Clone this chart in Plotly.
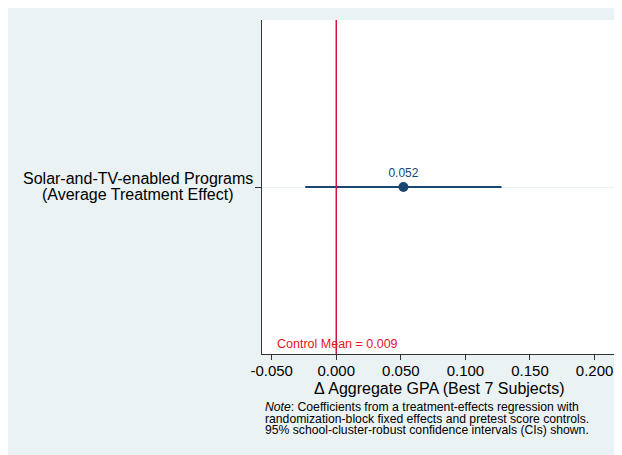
import plotly.graph_objects as go

category_lines = ["Solar-and-TV-enabled Programs", "(Average Treatment Effect)"]
coef = [0.052]
ci_low = [-0.024]
ci_high = [0.128]
coef_labels = ["0.052"]
control_mean = 0.009
x_tickvals = [-0.05, 0.0, 0.05, 0.10, 0.15, 0.20]
x_ticktext = ["-0.050", "0.000", "0.050", "0.100", "0.150", "0.200"]
x_title = "\u0394 Aggregate GPA (Best 7 Subjects)"
note_lines = [
    "<i>Note</i>: Coefficients from a treatment-effects regression with",
    "randomization-block fixed effects and pretest score controls.",
    "95% school-cluster-robust confidence intervals (CIs) shown.",
]

NAVY = "#1a476f"
RED = "#d2143c"
BG = "#eaf2f3"
FONT = "Liberation Sans, Arial, sans-serif"

ypos = [0]

fig = go.Figure()
fig.add_trace(go.Scatter(
    x=coef, y=ypos, mode="markers+text",
    marker=dict(color=NAVY, size=10),
    text=coef_labels, textposition="top center",
    textfont=dict(color=NAVY, size=12, family=FONT),
    error_x=dict(type="data", symmetric=False,
                 array=[h - c for h, c in zip(ci_high, coef)],
                 arrayminus=[c - l for c, l in zip(coef, ci_low)],
                 color=NAVY, thickness=2, width=0),
    showlegend=False, cliponaxis=False,
))

fig.add_shape(type="line", xref="x", yref="paper", x0=0, x1=0, y0=0, y1=1,
              line=dict(color=RED, width=1.5))

fig.add_annotation(x=0.0, xref="x", xshift=-61, y=0, yref="paper", yshift=10,
                   text="Control Mean = %.3f" % control_mean, showarrow=False,
                   xanchor="left", yanchor="middle",
                   font=dict(color="#e8141c", size=12.5, family=FONT))

for i, line in enumerate(category_lines):
    fig.add_annotation(x=0, xref="paper", xshift=-124, y=ypos[0], yref="y",
                       yshift=9 - 16 * i, text=line, showarrow=False,
                       xanchor="center", yanchor="middle",
                       font=dict(size=16, color="black", family=FONT))

fig.add_annotation(x=0.5, xref="paper", y=0, yref="paper", yshift=-34,
                   text=x_title, showarrow=False,
                   xanchor="center", yanchor="middle",
                   font=dict(size=16, color="black", family=FONT))

for i, line in enumerate(note_lines):
    fig.add_annotation(x=0, xref="paper", xshift=1, y=0, yref="paper",
                       yshift=-53 - 11.5 * i, text=line, showarrow=False,
                       xanchor="left", yanchor="middle",
                       font=dict(size=12.2, color="black", family=FONT))

fig.update_xaxes(range=[-0.0575, 0.2166], tickvals=x_tickvals, ticktext=x_ticktext,
                 ticks="outside", ticklen=5, tickcolor="#333", showline=True,
                 linecolor="#333", linewidth=1.2, showgrid=False, zeroline=False,
                 ticklabelstandoff=-2,
                 tickfont=dict(size=15, color="black", family=FONT))
fig.update_yaxes(range=[-1, 1], tickvals=ypos, ticktext=[""],
                 ticks="outside", ticklen=6, tickcolor="#333", showline=True,
                 linecolor="#333", linewidth=1.2, showgrid=True, gridcolor=BG,
                 gridwidth=1, zeroline=False, showticklabels=False)

# page body adds an 8px offset, so the figure is sized to fit the window
fig.update_layout(width=614, height=447, paper_bgcolor=BG, plot_bgcolor="white",
                  margin=dict(l=254, r=6, t=12, b=101),
                  font=dict(family=FONT))

fig.write_html("out.html")
